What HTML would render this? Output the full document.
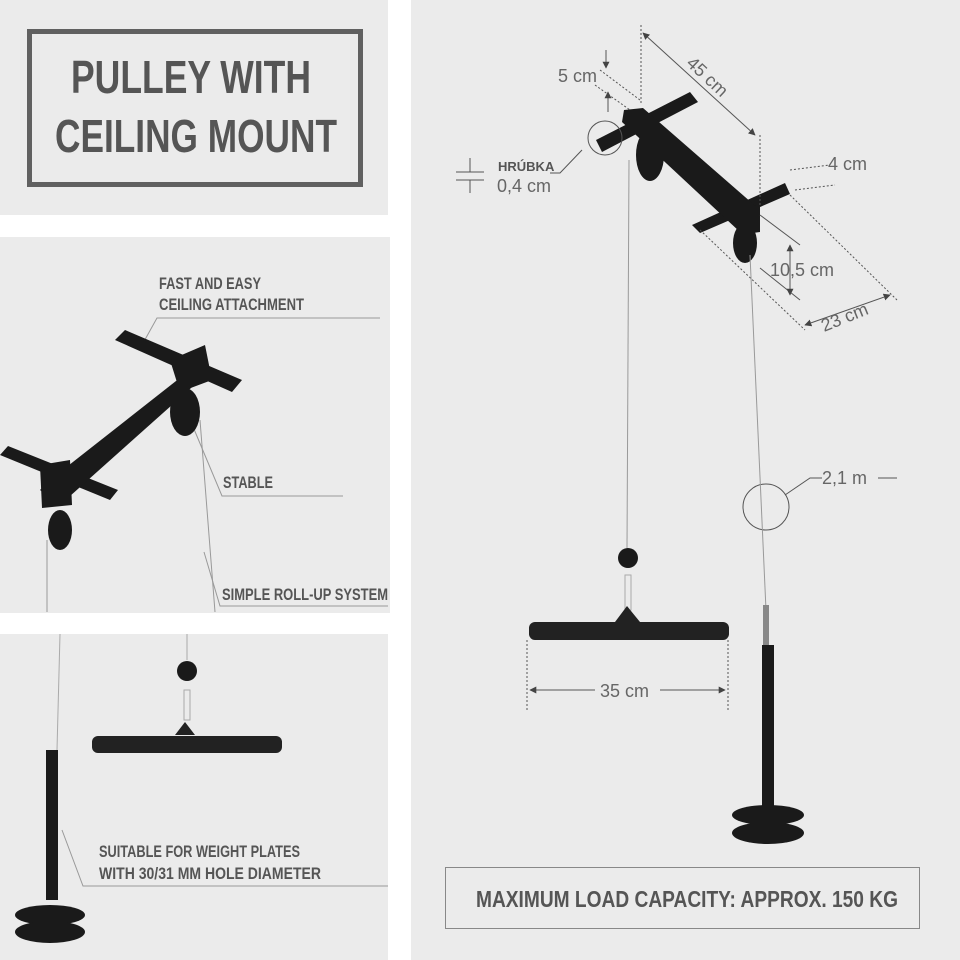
<!DOCTYPE html>
<html><head><meta charset="utf-8"><style>
html,body{margin:0;padding:0;background:#fff}
svg{display:block}
.h{font-family:"Liberation Sans Narrow","Liberation Sans",sans-serif;font-weight:bold;fill:#555}
.l{font-family:"Liberation Sans Narrow","Liberation Sans",sans-serif;fill:#666}
</style></head><body>
<svg width="960" height="960" viewBox="0 0 960 960" xmlns="http://www.w3.org/2000/svg">
<defs><marker id="a" viewBox="0 0 10 10" refX="9" refY="5" markerWidth="7" markerHeight="7" orient="auto-start-reverse"><path d="M0,0 L10,5 L0,10 Z" fill="#444"/></marker></defs>
<rect width="960" height="960" fill="#fff"/>
<rect x="0" y="0" width="388" height="215" fill="#ebebeb"/>
<rect x="0" y="237" width="390" height="376" fill="#ebebeb"/>
<rect x="0" y="634" width="388" height="326" fill="#ebebeb"/>
<rect x="411" y="0" width="549" height="960" fill="#ebebeb"/>

<rect x="29.5" y="31.5" width="331" height="153" fill="none" stroke="#606060" stroke-width="5"/>
<text class="h" x="191" y="93" font-size="46" text-anchor="middle" textLength="240" lengthAdjust="spacingAndGlyphs">PULLEY WITH</text>
<text class="h" x="196" y="152" font-size="46" text-anchor="middle" textLength="282" lengthAdjust="spacingAndGlyphs">CEILING MOUNT</text>

<text class="h" x="159" y="289" font-size="17" textLength="102" lengthAdjust="spacingAndGlyphs">FAST AND EASY</text>
<text class="h" x="159" y="310" font-size="17" textLength="145" lengthAdjust="spacingAndGlyphs">CEILING ATTACHMENT</text>
<polyline points="142,345 157,318 380,318" fill="none" stroke="#999" stroke-width="1"/>
<text class="h" x="223" y="488" font-size="17" textLength="50" lengthAdjust="spacingAndGlyphs">STABLE</text>
<polyline points="186,410 222,496 343,496" fill="none" stroke="#999"/>
<text class="h" x="222" y="600" font-size="17" textLength="166" lengthAdjust="spacingAndGlyphs">SIMPLE ROLL-UP SYSTEM</text>
<polyline points="204,552 220,606 388,606" fill="none" stroke="#999"/>
<g fill="#1a1a1a">
<polygon points="115,340 125,330 242,380 232,392"/>
<polygon points="0,455 8,446 118,490 110,500"/>
<polygon points="40,490 50,480 190,370 200,380 60,505"/>
<polygon points="170,360 205,345 212,380 180,392"/>
<polygon points="40,465 70,460 72,505 42,508"/>
<ellipse cx="185" cy="412" rx="15" ry="24"/>
<ellipse cx="60" cy="530" rx="12" ry="20"/>
</g>
<line x1="200" y1="420" x2="215" y2="612" stroke="#999"/>
<line x1="47" y1="540" x2="47" y2="612" stroke="#999"/>

<line x1="60" y1="634" x2="57" y2="750" stroke="#aaa"/>
<line x1="187" y1="634" x2="187" y2="660" stroke="#aaa"/>
<circle cx="187" cy="671" r="10" fill="#1a1a1a"/>
<path d="M184,690 L190,690 L190,720 L184,720 Z" fill="none" stroke="#aaa"/>
<rect x="92" y="736" width="190" height="17" rx="6" fill="#222"/>
<polygon points="175,735 185,722 195,735" fill="#222"/>
<rect x="46" y="750" width="12" height="150" fill="#1a1a1a"/>
<ellipse cx="50" cy="915" rx="35" ry="10" fill="#1a1a1a"/>
<ellipse cx="50" cy="932" rx="35" ry="11" fill="#1a1a1a"/>
<text class="h" x="99" y="857" font-size="17" textLength="201" lengthAdjust="spacingAndGlyphs">SUITABLE FOR WEIGHT PLATES</text>
<text class="h" x="99" y="879" font-size="17" textLength="222" lengthAdjust="spacingAndGlyphs">WITH 30/31 MM HOLE DIAMETER</text>
<polyline points="62,830 83,886 388,886" fill="none" stroke="#999"/>

<g fill="#1a1a1a">
<polygon points="596,140 690,92 698,102 602,152"/>
<polygon points="692,225 785,183 790,194 700,233"/>
<polygon points="624,110 643,108 760,210 758,230 740,232 622,122"/>
<polygon points="735,210 760,205 760,232 738,235"/>
<ellipse cx="650" cy="155" rx="14" ry="26"/>
<ellipse cx="745" cy="243" rx="12" ry="20"/>
</g>
<g stroke="#555" fill="none" stroke-width="1">
<line x1="641" y1="25" x2="641" y2="105" stroke-dasharray="2,2"/>
<line x1="760" y1="135" x2="760" y2="205" stroke-dasharray="2,2"/>
<line x1="643" y1="33" x2="755" y2="135" marker-start="url(#a)" marker-end="url(#a)"/>
<line x1="600" y1="70" x2="640" y2="100" stroke-dasharray="2,2"/>
<line x1="595" y1="85" x2="630" y2="110" stroke-dasharray="2,2"/>
<line x1="606" y1="50" x2="606" y2="68" marker-end="url(#a)"/><line x1="608" y1="112" x2="608" y2="92" marker-end="url(#a)"/>
<line x1="790" y1="170" x2="830" y2="165" stroke-dasharray="2,2"/>
<line x1="795" y1="190" x2="835" y2="185" stroke-dasharray="2,2"/>
<line x1="790" y1="195" x2="897" y2="300" stroke-dasharray="2,2"/>
<line x1="700" y1="230" x2="805" y2="330" stroke-dasharray="2,2"/>
<line x1="760" y1="215" x2="800" y2="245"/>
<line x1="760" y1="268" x2="800" y2="300"/>
<line x1="790" y1="245" x2="790" y2="295" marker-start="url(#a)" marker-end="url(#a)"/>
<line x1="805" y1="325" x2="890" y2="295" marker-start="url(#a)" marker-end="url(#a)"/>
<circle cx="605" cy="138" r="17"/>
<polyline points="582,150 560,173 550,173"/>
<line x1="456" y1="172" x2="484" y2="172"/><line x1="456" y1="180" x2="484" y2="180"/>
<line x1="470" y1="158" x2="470" y2="172"/><line x1="470" y1="180" x2="470" y2="193"/>
<circle cx="766" cy="507" r="23"/>
<polyline points="785,495 810,478 822,478"/>
<line x1="878" y1="478" x2="897" y2="478"/>
<line x1="527" y1="640" x2="527" y2="710" stroke-dasharray="2,2"/>
<line x1="728" y1="640" x2="728" y2="710" stroke-dasharray="2,2"/>
<line x1="595" y1="690" x2="530" y2="690" marker-end="url(#a)"/><line x1="660" y1="690" x2="725" y2="690" marker-end="url(#a)"/>
</g>
<line x1="629" y1="160" x2="627" y2="548" stroke="#999"/>
<line x1="750" y1="255" x2="766" y2="610" stroke="#999"/>
<text class="l" x="558" y="82" font-size="18">5 cm</text>
<text class="l" x="680" y="78" font-size="18" transform="rotate(43 700 78)">45 cm</text>
<text class="h" x="498" y="171" font-size="13">HRÚBKA</text>
<text class="l" x="497" y="192" font-size="18">0,4 cm</text>
<text class="l" x="828" y="170" font-size="18">4 cm</text>
<text class="l" x="770" y="276" font-size="18">10,5 cm</text>
<text class="l" x="820" y="325" font-size="18" transform="rotate(-22 840 318)">23 cm</text>
<text class="l" x="822" y="484" font-size="18">2,1 m</text>
<text class="l" x="600" y="697" font-size="18">35 cm</text>
<circle cx="628" cy="558" r="10" fill="#1a1a1a"/>
<path d="M625,575 L631,575 L631,610 L625,610 Z" fill="none" stroke="#aaa"/>
<rect x="529" y="622" width="200" height="18" rx="6" fill="#222"/>
<polygon points="615,622 627,606 640,622" fill="#222"/>
<rect x="763" y="605" width="6" height="40" fill="#888"/>
<rect x="762" y="645" width="12" height="170" fill="#1a1a1a"/>
<ellipse cx="768" cy="815" rx="36" ry="10" fill="#1a1a1a"/>
<ellipse cx="768" cy="833" rx="36" ry="11" fill="#1a1a1a"/>
<rect x="445.5" y="867.5" width="474" height="61" fill="none" stroke="#888"/>
<text class="h" x="476" y="907" font-size="23" textLength="422" lengthAdjust="spacingAndGlyphs">MAXIMUM LOAD CAPACITY: APPROX. 150 KG</text>
</svg>
</body></html>
